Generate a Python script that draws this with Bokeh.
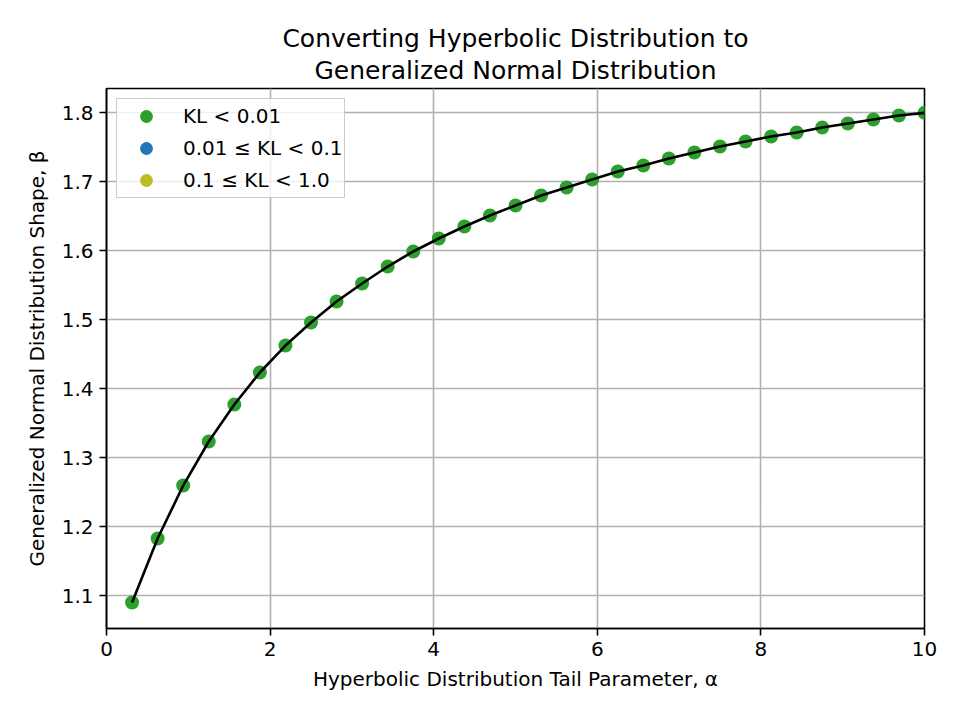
from bokeh.plotting import figure
from bokeh.models import Title, Legend, LegendItem, FixedTicker, ColumnDataSource
from bokeh.embed import file_html
from bokeh.resources import INLINE

# Data
alpha = [0.3125, 0.625, 0.9375, 1.25, 1.5625, 1.875, 2.1875, 2.5, 2.8125, 3.125,
         3.4375, 3.75, 4.0625, 4.375, 4.6875, 5.0, 5.3125, 5.625, 5.9375, 6.25,
         6.5625, 6.875, 7.1875, 7.5, 7.8125, 8.125, 8.4375, 8.75, 9.0625, 9.375,
         9.6875, 10.0]
beta = [1.0899, 1.1826, 1.2594, 1.3232, 1.3768, 1.4232, 1.4623, 1.4957, 1.5261, 1.5522,
        1.5768, 1.5986, 1.6174, 1.6348, 1.6507, 1.6652, 1.6797, 1.6913, 1.7029, 1.7145,
        1.7232, 1.7333, 1.7420, 1.7507, 1.7580, 1.7652, 1.7710, 1.7783, 1.7841, 1.7899,
        1.7957, 1.7995]
# Medium and low-accuracy classes have no points in this chart (NaN = nothing drawn)
alpha_mid, beta_mid = [float("nan")], [float("nan")]
alpha_low, beta_low = [float("nan")], [float("nan")]

labels = ["KL < 0.01", "0.01 \u2264 KL < 0.1", "0.1 \u2264 KL < 1.0"]
x_ticks = [0, 2, 4, 6, 8, 10]
y_ticks = [1.1, 1.2, 1.3, 1.4, 1.5, 1.6, 1.7, 1.8]

FONT = "DejaVu Sans"

p = figure(width=960, height=720, output_backend="svg", toolbar_location=None,
           x_range=(0, 10), y_range=(1.0522, 1.8348),
           min_border_left=106, min_border_right=36, min_border_top=88, min_border_bottom=92)
p.background_fill_color = "white"
p.border_fill_color = "white"
p.outline_line_color = "black"
p.outline_line_width = 1.6

t2 = Title(text="Generalized Normal Distribution", align="center",
           text_font=FONT, text_font_size="25px", text_font_style="normal",
           text_color="black", standoff=8)
t1 = Title(text="Converting Hyperbolic Distribution to", align="center",
           text_font=FONT, text_font_size="25px", text_font_style="normal",
           text_color="black", standoff=-6)
p.add_layout(t2, "above")
p.add_layout(t1, "above")

for ax in (p.xaxis[0], p.yaxis[0]):
    ax.major_label_text_font = FONT
    ax.major_label_text_font_size = "20px"
    ax.major_label_text_color = "black"
    ax.axis_label_text_font = FONT
    ax.axis_label_text_font_size = "20px"
    ax.axis_label_text_font_style = "normal"
    ax.axis_label_text_color = "black"
    ax.axis_line_color = "black"
    ax.axis_line_width = 1.6
    ax.major_tick_line_color = "black"
    ax.major_tick_line_width = 1.6
    ax.major_tick_out = 7
    ax.major_tick_in = 0
    ax.minor_tick_line_color = None

p.xaxis.axis_label = "Hyperbolic Distribution Tail Parameter, \u03b1"
p.yaxis.axis_label = "Generalized Normal Distribution Shape, \u03b2"
p.xaxis.ticker = FixedTicker(ticks=x_ticks)
p.yaxis.ticker = FixedTicker(ticks=y_ticks)
p.xaxis.major_label_standoff = 6
p.yaxis.major_label_standoff = 6
p.xaxis.axis_label_standoff = 8
p.yaxis.axis_label_standoff = 10

p.xgrid.ticker = FixedTicker(ticks=x_ticks)
p.ygrid.ticker = FixedTicker(ticks=y_ticks)
p.grid.grid_line_color = "#b0b0b0"
p.grid.grid_line_width = 1.6

src_hi = ColumnDataSource(dict(x=alpha, y=beta))
src_mid = ColumnDataSource(dict(x=alpha_mid, y=beta_mid))
src_low = ColumnDataSource(dict(x=alpha_low, y=beta_low))

r_hi = p.scatter("x", "y", source=src_hi, size=14, fill_color="#2ca02c", line_color=None)
r_mid = p.scatter("x", "y", source=src_mid, size=14, fill_color="#1f77b4", line_color=None)
r_low = p.scatter("x", "y", source=src_low, size=14, fill_color="#bcbd22", line_color=None)
p.line("x", "y", source=src_hi, line_color="black", line_width=2.6)

legend = Legend(items=[LegendItem(label=labels[0], renderers=[r_hi]),
                       LegendItem(label=labels[1], renderers=[r_mid]),
                       LegendItem(label=labels[2], renderers=[r_low])],
                location="top_left")
legend.label_text_font = FONT
legend.label_text_font_size = "20px"
legend.label_text_color = "black"
legend.border_line_color = "#cccccc"
legend.border_line_width = 1.5
legend.border_line_alpha = 1.0
legend.background_fill_alpha = 0.8
legend.margin = 10
legend.padding = 1
legend.spacing = 0
legend.glyph_width = 56
legend.glyph_height = 32
legend.label_standoff = 9
legend.label_height = 32
p.add_layout(legend)

open("out.html", "w").write(file_html(p, INLINE))
